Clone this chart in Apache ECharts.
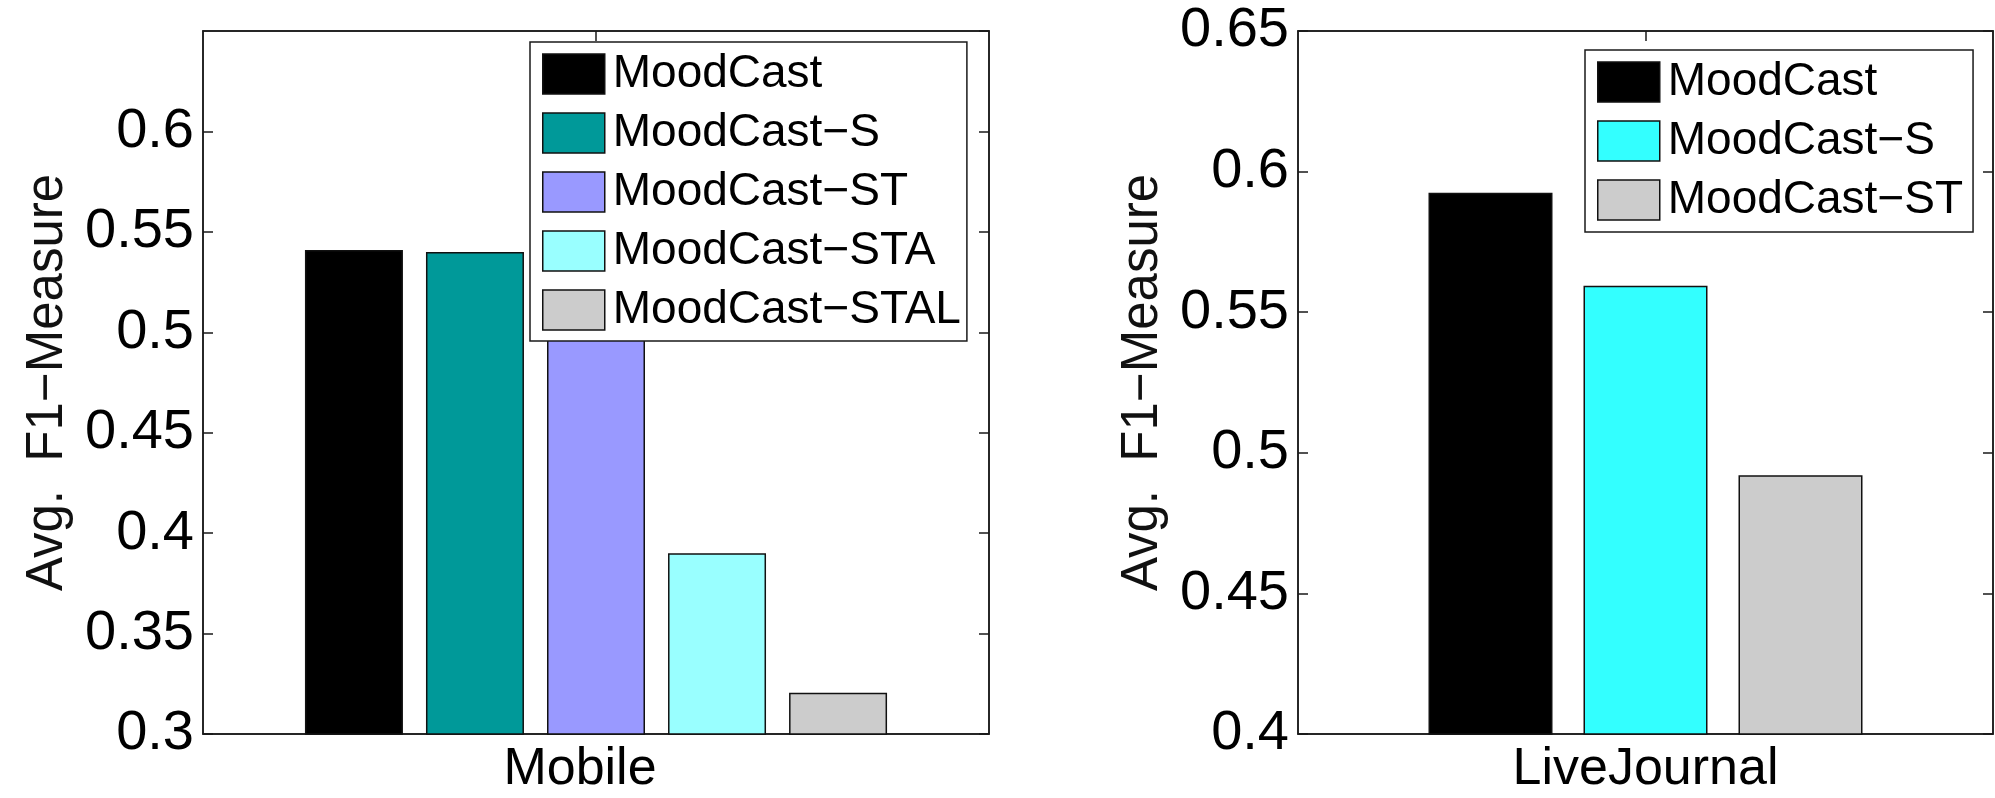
<!DOCTYPE html>
<html>
<head>
<meta charset="utf-8">
<script src="https://cdn.jsdelivr.net/npm/echarts@6/dist/echarts.min.js"></script>
<style>
  html, body { margin: 0; padding: 0; background: #fff; }
  #mobile { position: absolute; left: 0; top: 0; width: 1000px; height: 798px; }
  #lj { position: absolute; left: 1000px; top: 0; width: 995px; height: 798px; }
</style>
</head>
<body>
<div id="mobile"></div>
<div id="lj"></div>
<script>
// Mobile 数据
const mobileCategory = ['Mobile']
const mobileNames = ['MoodCast', 'MoodCast\u2212S', 'MoodCast\u2212ST', 'MoodCast\u2212STA', 'MoodCast\u2212STAL']
const mobileValues = [0.541, 0.540, 0.502, 0.390, 0.3205]
const mobileColors = ['#000000', '#009999', '#9999ff', '#99ffff', '#cccccc']

// LiveJournal 数据
const ljCategory = ['LiveJournal']
const ljNames = ['MoodCast', 'MoodCast\u2212S', 'MoodCast\u2212ST']
const ljValues = [0.5925, 0.5594, 0.492]
const ljColors = ['#000000', '#33ffff', '#cccccc']

const FONT = '"Liberation Sans", Arial, Helvetica, sans-serif'
const INK = '#1a1a1a'

function makeOption(cfg){
    let series = cfg.names.map((name, i) => {
        return {
            name: name,
            type: 'bar',
            barWidth: cfg.barWidth,
            barGap: cfg.barGap,
            clip: true,
            itemStyle: {
                color: cfg.colors[i],
                borderColor: '#111',
                borderWidth: 1.5
            },
            data: [cfg.values[i]]
        }
    })
    return {
        animation: false,
        textStyle: { fontFamily: FONT },
        grid: {
            left: cfg.grid.left,
            top: cfg.grid.top,
            width: cfg.grid.width,
            height: cfg.grid.height,
            show: true,
            borderColor: INK,
            borderWidth: 1.5,
            backgroundColor: 'transparent'
        },
        legend: {
            orient: 'vertical',
            left: cfg.legend.left,
            top: cfg.legend.top,
            padding: cfg.legend.padding,
            itemWidth: 62,
            itemHeight: 40,
            itemGap: 13,
            backgroundColor: '#fff',
            borderColor: INK,
            borderWidth: 1.5,
            borderRadius: 0,
            selectedMode: false,
            icon: 'rect',
            itemStyle: { borderColor: '#111', borderWidth: 1.5 },
            textStyle: {
                fontFamily: FONT,
                fontSize: 46,
                lineHeight: 40,
                color: '#000',
                padding: [0, 0, 0, 3]
            },
            data: cfg.names
        },
        xAxis: [
            {
                type: 'category',
                data: cfg.category,
                position: 'bottom',
                axisLine: { show: true, lineStyle: { color: INK, width: 1.5 } },
                axisTick: { show: false },
                axisLabel: {
                    fontFamily: FONT,
                    fontSize: 52,
                    color: '#000',
                    margin: 10,
                    padding: cfg.xLabelPad
                }
            },
            {
                type: 'category',
                data: cfg.category,
                position: 'top',
                axisLine: { show: true, lineStyle: { color: INK, width: 1.5 } },
                axisTick: { show: true, inside: true, alignWithLabel: true, length: 10, lineStyle: { color: INK, width: 1.5 } },
                axisLabel: { show: false }
            }
        ],
        yAxis: [
            {
                type: 'value',
                min: cfg.yMin,
                max: cfg.yMax,
                interval: 0.05,
                position: 'left',
                name: 'Avg.  F1\u2212Measure',
                nameLocation: 'middle',
                nameGap: 130,
                nameTextStyle: { fontFamily: FONT, fontSize: 51, color: '#111' },
                splitLine: { show: false },
                axisLine: { show: true, lineStyle: { color: INK, width: 1.5 } },
                axisTick: { show: true, inside: true, length: 10, lineStyle: { color: INK, width: 1.5 } },
                axisLabel: {
                    fontFamily: FONT,
                    fontSize: 56,
                    color: '#000',
                    margin: 9,
                    showMaxLabel: cfg.showMax
                }
            },
            {
                type: 'value',
                min: cfg.yMin,
                max: cfg.yMax,
                interval: 0.05,
                position: 'right',
                splitLine: { show: false },
                axisLine: { show: true, lineStyle: { color: INK, width: 1.5 } },
                axisTick: { show: true, inside: true, length: 10, lineStyle: { color: INK, width: 1.5 } },
                axisLabel: { show: false }
            }
        ],
        series: series
    }
}

let chartMobile = echarts.init(document.getElementById('mobile'))
chartMobile.setOption(makeOption({
    category: mobileCategory,
    names: mobileNames,
    values: mobileValues,
    colors: mobileColors,
    barWidth: 98,
    barGap: '23.5%',
    yMin: 0.3,
    yMax: 0.65,
    showMax: false,
    xLabelPad: [0, 32, 0, 0],
    grid: { left: 203, top: 31, width: 786, height: 703 },
    legend: { left: 530, top: 42, padding: [9, 6, 8, 12] }
}))

let chartLj = echarts.init(document.getElementById('lj'))
chartLj.setOption(makeOption({
    category: ljCategory,
    names: ljNames,
    values: ljValues,
    colors: ljColors,
    barWidth: 124,
    barGap: '25%',
    yMin: 0.4,
    yMax: 0.65,
    showMax: true,
    xLabelPad: [0, 0, 0, 0],
    grid: { left: 298, top: 31, width: 695, height: 703 },
    legend: { left: 585, top: 50, padding: [9, 10, 9, 12] }
}))
</script>
</body>
</html>
